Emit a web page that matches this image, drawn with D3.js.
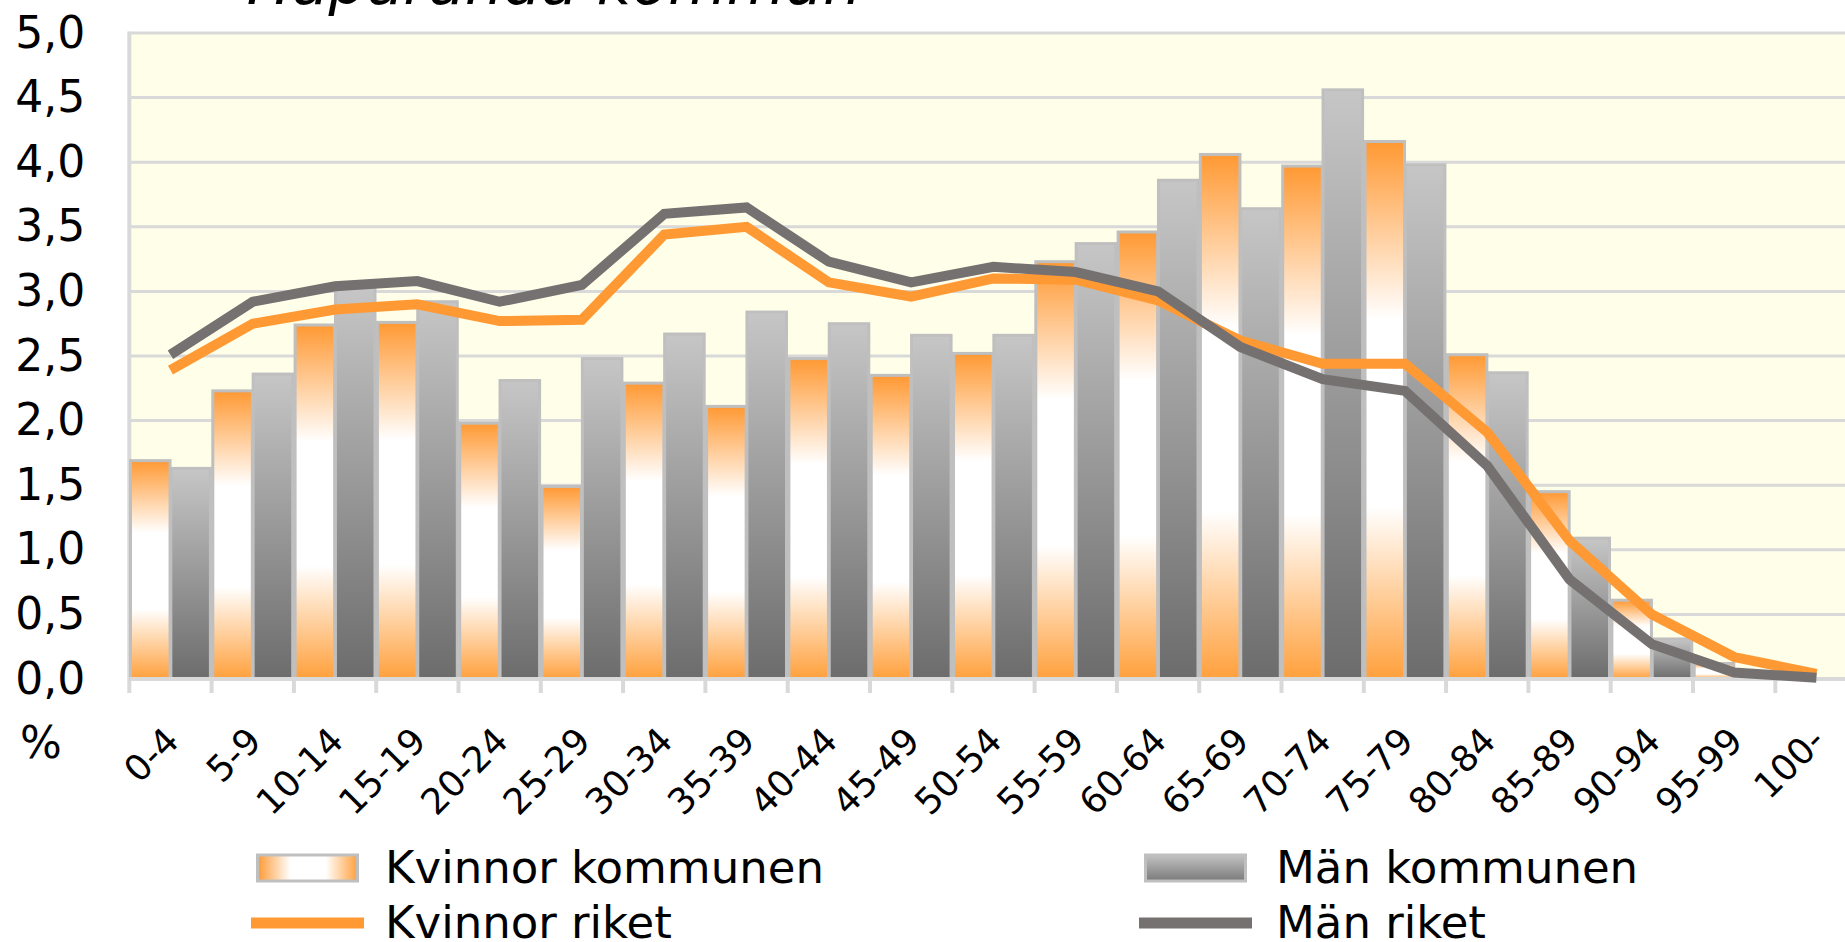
<!DOCTYPE html>
<html>
<head>
<meta charset="utf-8">
<script src="https://cdn.jsdelivr.net/npm/d3@7"></script>
<style>
  html, body { margin: 0; padding: 0; background: #fff; overflow: hidden; }
  svg { display: block; font-family: "DejaVu Sans", Verdana, sans-serif; }
</style>
</head>
<body>
<svg id="chart" width="1845" height="942"></svg>
<script>
const categories = ["0-4", "5-9", "10-14", "15-19", "20-24", "25-29", "30-34", "35-39", "40-44", "45-49",
  "50-54", "55-59", "60-64", "65-69", "70-74", "75-79", "80-84", "85-89", "90-94", "95-99", "100-"];

const kvinnorKommunen = [1.69, 2.23, 2.74, 2.76, 1.98, 1.49, 2.29, 2.11, 2.48, 2.35, 2.52, 3.23, 3.46, 4.06, 3.97, 4.16, 2.51, 1.45, 0.61, 0.12, 0.01];
const manKommunen = [1.63, 2.36, 3.03, 2.92, 2.31, 2.48, 2.67, 2.84, 2.75, 2.66, 2.66, 3.37, 3.86, 3.64, 4.56, 3.98, 2.37, 1.09, 0.31, 0.03, 0.0];
const kvinnorRiket = [2.39, 2.75, 2.86, 2.90, 2.77, 2.78, 3.44, 3.50, 3.07, 2.96, 3.10, 3.09, 2.93, 2.62, 2.44, 2.44, 1.91, 1.07, 0.50, 0.17, 0.04];
const manRiket = [2.51, 2.92, 3.04, 3.08, 2.92, 3.05, 3.60, 3.65, 3.23, 3.07, 3.19, 3.15, 3.00, 2.57, 2.32, 2.23, 1.65, 0.77, 0.27, 0.05, 0.01];

const seriesNames = ["Kvinnor kommunen", "Män kommunen", "Kvinnor riket", "Män riket"];
const title = "Haparanda kommun";

const svg = d3.select("#chart");
const plotLeft = 129.3, plotRight = 1857.6, plotTop = 33, plotBottom = 679;

const fmt = d3.formatLocale({ decimal: ",", thousands: " ", grouping: [3], currency: ["", ""] }).format(".1f");

const y = d3.scaleLinear().domain([0, 5]).range([plotBottom, plotTop]);
const x0 = d3.scaleBand().domain(categories).range([plotLeft, plotRight]).padding(0);
const x1 = d3.scaleBand().domain(["k", "m"]).range([0, x0.bandwidth()]).paddingInner(0.02).paddingOuter(0.03);

const defs = svg.append("defs");
const gk = defs.append("linearGradient").attr("id", "gradK").attr("x1", 0).attr("y1", 0).attr("x2", 0).attr("y2", 1);
gk.append("stop").attr("offset", "0").attr("stop-color", "#ff9933");
gk.append("stop").attr("offset", "0.33").attr("stop-color", "#ffffff");
gk.append("stop").attr("offset", "0.68").attr("stop-color", "#ffffff");
gk.append("stop").attr("offset", "1").attr("stop-color", "#ffa03c");

const gm = defs.append("linearGradient").attr("id", "gradM").attr("x1", 0).attr("y1", 0).attr("x2", 0).attr("y2", 1);
gm.append("stop").attr("offset", "0").attr("stop-color", "#c6c6c6");
gm.append("stop").attr("offset", "1").attr("stop-color", "#6c6c6c");

const gkl = defs.append("linearGradient").attr("id", "gradKLeg").attr("x1", 0).attr("y1", 0).attr("x2", 1).attr("y2", 0);
gkl.append("stop").attr("offset", "0").attr("stop-color", "#ff9933");
gkl.append("stop").attr("offset", "0.33").attr("stop-color", "#ffffff");
gkl.append("stop").attr("offset", "0.68").attr("stop-color", "#ffffff");
gkl.append("stop").attr("offset", "1").attr("stop-color", "#ffa03c");

const gml = defs.append("linearGradient").attr("id", "gradMLeg").attr("x1", 0).attr("y1", 0).attr("x2", 0).attr("y2", 1);
gml.append("stop").attr("offset", "0").attr("stop-color", "#c2c2c2");
gml.append("stop").attr("offset", "1").attr("stop-color", "#7a7a7a");

// title (mostly cut off at the top edge, as in the source)
svg.append("text")
  .attr("x", 554).attr("y", 4)
  .attr("text-anchor", "middle")
  .attr("font-size", "60px")
  .attr("font-style", "italic")
  .attr("fill", "#000")
  .text(title);

// plot background
svg.append("rect")
  .attr("x", plotLeft).attr("y", plotTop)
  .attr("width", plotRight - plotLeft).attr("height", plotBottom - plotTop)
  .attr("fill", "#fffee9");

// gridlines
svg.append("g")
  .selectAll("line")
  .data(y.ticks(10))
  .join("line")
  .attr("x1", plotLeft).attr("x2", plotRight)
  .attr("y1", (d) => y(d)).attr("y2", (d) => y(d))
  .attr("stroke", "#d9d9d9")
  .attr("stroke-width", 3);

// left axis line
svg.append("line")
  .attr("x1", plotLeft).attr("x2", plotLeft)
  .attr("y1", plotTop - 1.5).attr("y2", plotBottom + 14)
  .attr("stroke", "#d9d9d9")
  .attr("stroke-width", 4);

// bars
const rows = categories.map((c, i) => ({ c, k: kvinnorKommunen[i], m: manKommunen[i] }));
const cat = svg.append("g")
  .selectAll("g")
  .data(rows)
  .join("g")
  .attr("transform", (d) => `translate(${x0(d.c)},0)`);

cat.selectAll("rect")
  .data((d) => [{ key: "k", v: d.k }, { key: "m", v: d.m }])
  .join("rect")
  .attr("x", (d) => x1(d.key))
  .attr("width", x1.bandwidth())
  .attr("y", (d) => y(d.v))
  .attr("height", (d) => y(0) - y(d.v))
  .attr("fill", (d) => (d.key === "k" ? "url(#gradK)" : "url(#gradM)"))
  .attr("stroke", "#bfbfbf")
  .attr("stroke-width", (d) => (d.v > 0.02 ? 3 : 0));

// bottom axis line and ticks
svg.append("line")
  .attr("x1", plotLeft).attr("x2", plotRight)
  .attr("y1", plotBottom).attr("y2", plotBottom)
  .attr("stroke", "#d9d9d9")
  .attr("stroke-width", 4);

svg.append("g")
  .selectAll("line")
  .data(categories.slice(1))
  .join("line")
  .attr("x1", (d) => x0(d)).attr("x2", (d) => x0(d))
  .attr("y1", plotBottom).attr("y2", plotBottom + 14)
  .attr("stroke", "#d9d9d9")
  .attr("stroke-width", 4);

// y axis labels
const yAxis = svg.append("g")
  .attr("transform", `translate(${plotLeft},0)`)
  .call(d3.axisLeft(y).ticks(10).tickSize(0).tickPadding(44).tickFormat(fmt));
yAxis.select(".domain").remove();
yAxis.selectAll("text")
  .attr("font-family", "DejaVu Sans, Verdana, sans-serif")
  .attr("font-size", "44px")
  .attr("fill", "#000");

svg.append("text")
  .attr("x", 20).attr("y", 758)
  .attr("font-size", "44px")
  .attr("fill", "#000")
  .text("%");

// x axis labels
svg.append("g")
  .selectAll("text")
  .data(categories)
  .join("text")
  .attr("transform", (d) => `translate(${x0(d) + x0.bandwidth() / 2 + 10.5},${plotBottom + 64}) rotate(-45)`)
  .attr("text-anchor", "end")
  .attr("font-size", "36px")
  .attr("fill", "#000")
  .text((d) => d);

// lines
const line = d3.line()
  .x((d, i) => x0(categories[i]) + x0.bandwidth() / 2)
  .y((d) => y(d));

svg.append("path")
  .datum(kvinnorRiket)
  .attr("d", line)
  .attr("fill", "none")
  .attr("stroke", "#ff9933")
  .attr("stroke-width", 10);

svg.append("path")
  .datum(manRiket)
  .attr("d", line)
  .attr("fill", "none")
  .attr("stroke", "#767171")
  .attr("stroke-width", 10);

// legend
const legend = [
  { name: seriesNames[0], type: "bar", fill: "url(#gradKLeg)", x: 256, y: 868 },
  { name: seriesNames[1], type: "bar", fill: "url(#gradMLeg)", x: 1144, y: 868 },
  { name: seriesNames[2], type: "line", color: "#ff9933", x: 256, y: 923 },
  { name: seriesNames[3], type: "line", color: "#767171", x: 1144, y: 923 },
];

const lg = svg.append("g")
  .selectAll("g")
  .data(legend)
  .join("g")
  .attr("transform", (d) => `translate(${d.x},${d.y})`);

lg.filter((d) => d.type === "bar")
  .append("rect")
  .attr("x", 1.5).attr("y", -13)
  .attr("width", 100).attr("height", 26)
  .attr("fill", (d) => d.fill)
  .attr("stroke", "#bfbfbf")
  .attr("stroke-width", 3);

lg.filter((d) => d.type === "line")
  .append("line")
  .attr("x1", -5).attr("x2", 108)
  .attr("y1", 0).attr("y2", 0)
  .attr("stroke", (d) => d.color)
  .attr("stroke-width", 11);

lg.append("text")
  .attr("x", (d) => (d.x === 256 ? 129 : 132))
  .attr("y", 15)
  .attr("font-size", "45px")
  .attr("fill", "#000")
  .text((d) => d.name);
</script>
</body>
</html>
